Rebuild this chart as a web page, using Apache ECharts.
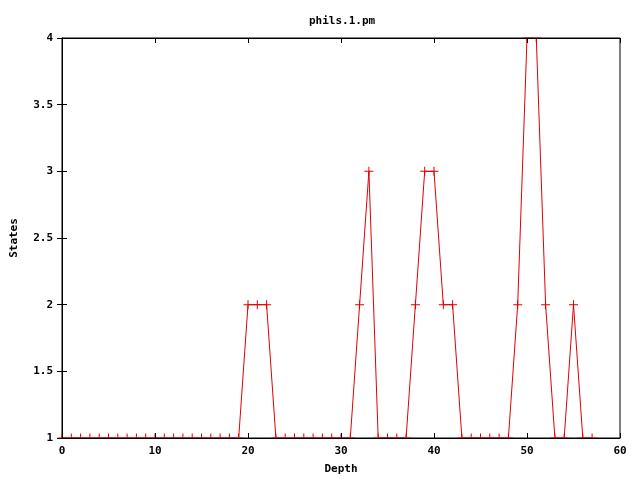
<!DOCTYPE html>
<html>
<head>
<meta charset="utf-8">
<script src="https://cdn.jsdelivr.net/npm/echarts@6/dist/echarts.min.js"></script>
<style>html,body{margin:0;padding:0;background:#fff}#c{width:640px;height:480px}</style>
</head>
<body>
<div id="c"></div>
<script>
var titleText = 'phils.1.pm';
var xName = 'Depth';
var yName = 'States';
var depth = [0,1,2,3,4,5,6,7,8,9,10,11,12,13,14,15,16,17,18,19,20,21,22,23,24,25,26,27,28,29,30,31,32,33,34,35,36,37,38,39,40,41,42,43,44,45,46,47,48,49,50,51,52,53,54,55,56,57];
var states = [1,1,1,1,1,1,1,1,1,1,1,1,1,1,1,1,1,1,1,1,2,2,2,1,1,1,1,1,1,1,1,1,2,3,1,1,1,1,2,3,3,2,2,1,1,1,1,1,1,2,4,4,2,1,1,2,1,1];
var xTicks = [0,10,20,30,40,50,60];
var yTicks = [1,1.5,2,2.5,3,3.5,4];

var font = 'DejaVu Sans Mono';
var red = '#e00000';
var yMin = yTicks[0], yMax = yTicks[yTicks.length-1];
var PLUS = 'path://M0,4H9V5H0Z M4,0H5V9H4Z';
var TOP_HALF = 'path://M0,4H9V5H0Z M4,0H5V5H4Z';
var BOTTOM_HALF = 'path://M0,0H9V1H0Z M4,0H5V5H4Z';
// markers on the frame edge are clipped to the inside half, as in the original
var data = depth.map(function(d,i){
  var s = states[i];
  if (s === yMin) return {value:[d,s], symbol:TOP_HALF, symbolSize:[9,5], symbolOffset:[0,-2]};
  if (s === yMax) return {value:[d,s], symbol:BOTTOM_HALF, symbolSize:[9,5], symbolOffset:[0,2]};
  return {value:[d,s]};
});
var chart = echarts.init(document.getElementById('c'));
var tickStyle = {show:true, inside:true, length:5, lineStyle:{color:'#000', width:1}};
var labelStyle = {color:'#000', fontFamily:font, fontWeight:'bold', fontSize:11};
chart.setOption({
  animation:false,
  backgroundColor:'#fff',
  title:{text:titleText, left:304, top:11, textStyle:{fontFamily:font, fontWeight:'bold', fontSize:11, color:'#000'}},
  grid:{left:62, right:20, top:38, bottom:40, show:true, borderColor:'#000', borderWidth:1, z:1},
  xAxis:[{
    type:'value', min:xTicks[0], max:xTicks[xTicks.length-1], interval:10, z:3,
    name:xName, nameLocation:'middle', nameGap:26,
    nameTextStyle:{fontFamily:font, fontWeight:'bold', fontSize:11, color:'#000'},
    axisLine:{lineStyle:{color:'#000'}}, axisTick:tickStyle, splitLine:{show:false},
    axisLabel:Object.assign({margin:8}, labelStyle)
  },{
    type:'value', position:'top', min:xTicks[0], max:xTicks[xTicks.length-1], interval:10, z:3,
    axisLine:{lineStyle:{color:'#000'}}, axisTick:tickStyle, splitLine:{show:false}, axisLabel:{show:false}
  }],
  yAxis:[{
    type:'value', min:yMin, max:yMax, interval:0.5, z:3,
    name:yName, nameLocation:'middle', nameGap:42, nameRotate:90,
    nameTextStyle:{fontFamily:font, fontWeight:'bold', fontSize:11, color:'#000'},
    axisLine:{show:true, lineStyle:{color:'#000'}}, axisTick:tickStyle, splitLine:{show:false},
    axisLabel:Object.assign({margin:9}, labelStyle)
  },{
    type:'value', position:'right', min:yMin, max:yMax, interval:0.5, z:3,
    axisLine:{show:true, lineStyle:{color:'#000'}}, axisTick:tickStyle, splitLine:{show:false}, axisLabel:{show:false}
  }],
  series:[{
    type:'line', data:data, xAxisIndex:0, yAxisIndex:0, z:2,
    symbol:PLUS, symbolSize:9, showSymbol:true,
    lineStyle:{color:red, width:1},
    itemStyle:{color:red},
    clip:true
  }]
});
</script>
</body>
</html>
